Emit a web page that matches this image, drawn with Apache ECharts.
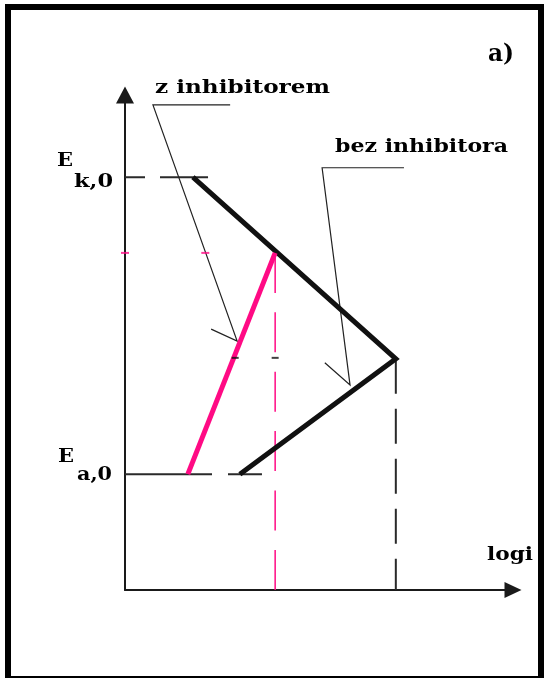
<!DOCTYPE html>
<html>
<head>
<meta charset="utf-8">
<script src="https://cdn.jsdelivr.net/npm/echarts@6/dist/echarts.min.js"></script>
<style>
  html, body { margin: 0; padding: 0; background: #fff; }
  #chart { width: 548px; height: 678px; }
</style>
</head>
<body>
<div id="chart"></div>
<script>
// Schematic E vs log i diagram: corrosion without inhibitor and with an anodic inhibitor.
// Axis ranges (arbitrary units)
const xRange = [0, 10];
const yRange = [0, 10];

// Equilibrium potential levels
const levelE_k0 = 8.34;
const levelE_a0 = 2.34;
const levelK = [[0, 8.34], [2.14, 8.34]];
const levelA = [[0, 2.34], [3.53, 2.34]];

// Polarisation branches without inhibitor (cathodic down to the corrosion point, anodic back)
const bezInhibitora = [[1.75, 8.34], [6.98, 4.67], [2.96, 2.34]];
// Anodic branch with inhibitor
const zInhibitorem = [[1.62, 2.34], [3.87, 6.81]];

// Projections of the corrosion points onto the log i axis
const dropBez = [[6.98, 4.67], [6.98, 0]];
const dropZ = [[3.87, 6.81], [3.87, 0]];

// Leader lines of the two labels (underline, pointer, arrow barb)
const leaderZ = [[2.71, 9.80], [0.72, 9.80], [2.89, 5.03], [2.22, 5.27]];
const leaderBez = [[7.19, 8.53], [5.08, 8.53], [5.80, 4.14], [5.15, 4.59]];

// Small level marks
const pinkMarks = [[0, 6.81], [2.07, 6.81]];
const blackMarks = [[2.84, 4.69], [3.87, 4.69]];

const PINK = '#ff0a84';
const INK = '#111';

const chart = echarts.init(document.getElementById('chart'), null, { renderer: 'canvas' });

function lineSeries(data, color, width, type, z) {
  return {
    type: 'line', data: data, symbol: 'none', silent: true, animation: false, clip: false,
    z: z || 2,
    lineStyle: { color: color, width: width, type: type || 'solid', cap: 'butt', join: 'miter' }
  };
}

// Text measured on a scratch canvas so every label can be stretched to its width
const scratch = document.createElement('canvas').getContext('2d');
function label(str, left, baseline, width, size) {
  const font = 'bold ' + size + 'px "DejaVu Serif"';
  scratch.font = font;
  const w = scratch.measureText(str).width;
  return {
    type: 'text', x: left, y: baseline + 4, scaleX: width / w, silent: true,
    style: { text: str, font: font, fill: '#000', textVerticalAlign: 'bottom', verticalAlign: 'bottom' }
  };
}

const option = {
  backgroundColor: '#fff',
  animation: false,
  grid: { left: 125, top: 95, right: 35, bottom: 88, containLabel: false },
  xAxis: {
    type: 'value', min: xRange[0], max: xRange[1],
    axisLine: { show: true, onZero: false, symbol: ['none', 'triangle'], symbolSize: [16, 17],
      lineStyle: { color: '#1a1a1a', width: 2 } },
    axisTick: { show: false }, axisLabel: { show: false }, splitLine: { show: false }
  },
  yAxis: {
    type: 'value', min: yRange[0], max: yRange[1],
    axisLine: { show: true, onZero: false, symbol: ['none', 'triangle'], symbolSize: [18, 17],
      lineStyle: { color: '#1a1a1a', width: 2 } },
    axisTick: { show: false }, axisLabel: { show: false }, splitLine: { show: false }
  },
  series: [
    lineSeries(levelK, '#2a2a2a', 2, [20, 15, 60, 10]),
    lineSeries(levelA, '#2a2a2a', 2, [87, 16, 40, 10]),
    lineSeries(dropBez, '#2a2a2a', 2, [35, 15]),
    lineSeries(dropZ, PINK, 1.5, [40, 19.4]),
    lineSeries(leaderZ, '#222', 1.2),
    lineSeries(leaderBez, '#222', 1.2),
    lineSeries(bezInhibitora, INK, 5, 'solid', 5),
    lineSeries(zInhibitorem, PINK, 5, 'solid', 5),
    {
      type: 'scatter', data: pinkMarks, symbol: 'rect', symbolSize: [8, 2], clip: false, silent: true,
      itemStyle: { color: PINK }, z: 6
    },
    {
      type: 'scatter', data: blackMarks, symbol: 'rect', symbolSize: [7, 2], clip: false, silent: true,
      itemStyle: { color: INK }, z: 6
    }
  ],
  graphic: [
    { type: 'rect', shape: { x: 8, y: 7, width: 533, height: 672 }, silent: true,
      style: { fill: 'none', stroke: '#000', lineWidth: 6 } },
    label('a)', 488, 63, 26, 24),
    label('z inhibitorem', 155, 93, 175, 18),
    label('bez inhibitora', 335, 152, 173, 18),
    label('logi', 487, 560, 46, 18),
    label('E', 57, 167, 16, 19),
    label('k,0', 74, 187, 39, 18),
    label('E', 58, 463, 16, 19),
    label('a,0', 77, 480, 35, 18)
  ]
};

chart.setOption(option);
</script>
</body>
</html>
